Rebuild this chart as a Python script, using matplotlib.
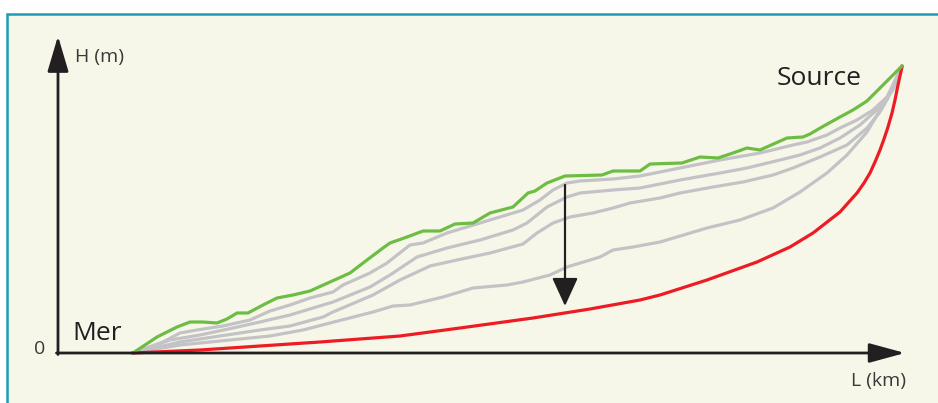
import matplotlib.pyplot as plt
from matplotlib.patches import Rectangle

# Profil en long : L (distance depuis la mer), H (altitude), unites relatives
green_L = [75, 99, 119, 132, 145, 159, 169, 179, 190, 205, 219, 235, 252, 272, 292, 309, 325, 332,
           349, 365, 382, 397, 415, 432, 455, 470, 477, 489, 507, 544, 555, 582, 592, 624, 642,
           660, 675, 689, 702, 729, 745, 752, 764, 782, 795, 809, 822, 844]
green_H = [0, 16, 26, 31, 31, 30, 34, 40, 40, 48, 55, 58, 62, 71, 80, 93, 105, 110,
           116, 122, 122, 129, 130, 140, 146, 160, 162, 170, 177, 178, 182, 182, 189, 190, 196,
           195, 200, 205, 203, 215, 216, 219, 226, 236, 243, 252, 265, 287]

grayA_L = [75, 105, 122, 139, 165, 192, 212, 232, 252, 275, 285, 312, 329, 352, 365, 389, 422, 455,
           465, 482, 495, 509, 522, 555, 582, 622, 662, 702, 735, 749, 769, 782, 799, 815, 829, 844]
grayA_H = [0, 11, 20, 23, 27, 33, 42, 48, 55, 61, 68, 80, 90, 108, 110, 120, 130, 140,
           143, 153, 163, 170, 172, 174, 177, 185, 193, 200, 208, 211, 218, 225, 233, 243, 256, 287]

grayB_L = [75, 112, 142, 175, 202, 232, 265, 275, 312, 332, 359, 389, 422, 455, 469, 489, 509, 522,
           555, 582, 622, 662, 689, 722, 742, 762, 782, 802, 822, 835, 844]
grayB_H = [0, 13, 18, 25, 31, 38, 48, 51, 66, 78, 96, 105, 113, 123, 130, 146, 156, 160,
           163, 165, 173, 180, 185, 193, 198, 205, 215, 228, 246, 263, 287]

grayC_L = [75, 122, 162, 202, 232, 265, 275, 315, 342, 372, 399, 432, 465, 479, 495, 512, 535, 555,
           572, 602, 622, 655, 685, 715, 735, 762, 789, 809, 822, 830, 844]
grayC_H = [0, 11, 17, 23, 27, 36, 41, 58, 73, 87, 93, 100, 109, 120, 130, 136, 140, 145,
           150, 155, 160, 166, 171, 178, 185, 196, 208, 225, 241, 255, 287]

grayD_L = [75, 122, 172, 212, 245, 272, 315, 335, 352, 385, 415, 449, 465, 492, 509, 542, 555, 575,
           602, 649, 682, 715, 742, 769, 789, 809, 822, 835, 844]
grayD_H = [0, 8, 13, 17, 23, 30, 41, 47, 48, 56, 65, 68, 71, 78, 86, 96, 103, 106,
           111, 125, 133, 145, 161, 180, 198, 221, 243, 266, 287]

red_L = [75, 142, 202, 262, 342, 402, 475, 532, 582, 602, 649, 699, 732, 755, 782, 790, 799, 806,
         812, 817, 822, 826, 830, 834, 837, 840, 844]
red_H = [0, 3, 7, 11, 17, 25, 35, 44, 53, 58, 73, 91, 106, 120, 141, 150, 160, 170,
         180, 191, 203, 214, 226, 240, 253, 268, 286]

arrow_L = 507
arrow_top, arrow_bottom = 168, 47

plt.rcParams['font.family'] = ['Open Sans', 'DejaVu Sans']

fig = plt.figure(figsize=(9.38, 4.03), dpi=100, facecolor='white')
ax = fig.add_axes([0, 0, 1, 1])
ax.set_xlim(-58, 880)
ax.set_ylim(-50, 353)
ax.axis('off')

# cadre
ax.add_patch(Rectangle((-51, -80), 1100, 339 + 80, facecolor='#f7f7e9',
                       edgecolor='#1a9db3', lw=1.8, zorder=0))

gray = '#c3c3c7'
for L, H in [(grayD_L, grayD_H), (grayC_L, grayC_H), (grayB_L, grayB_H), (grayA_L, grayA_H)]:
    ax.plot(L, H, color=gray, lw=2.3, solid_joinstyle='round', zorder=2)
ax.plot(red_L, red_H, color='#ed1c24', lw=2.3, zorder=3)
ax.plot(green_L, green_H, color='#6dbd45', lw=2.3, zorder=4)

# axes
ax.annotate('', xy=(0, 317), xytext=(0, -1.5),
            arrowprops=dict(arrowstyle='-|>,head_length=2.2,head_width=0.65', color='#231f20',
                            lw=2, shrinkA=0, shrinkB=0), zorder=5)
ax.annotate('', xy=(847, 0), xytext=(-1.5, 0),
            arrowprops=dict(arrowstyle='-|>,head_length=2.2,head_width=0.6', color='#231f20',
                            lw=2, shrinkA=0, shrinkB=0), zorder=5)

# fleche d'evolution
ax.annotate('', xy=(arrow_L, arrow_bottom), xytext=(arrow_L, arrow_top),
            arrowprops=dict(arrowstyle='-|>,head_length=1.75,head_width=0.8', color='#231f20',
                            lw=1.6, shrinkA=0, shrinkB=0), zorder=5)

ax.text(17, 296, 'H (m)', fontsize=14, color='#3a3a3a', ha='left', va='center')
ax.text(-18, 4, '0', fontsize=14, color='#3a3a3a', ha='center', va='center')
ax.text(848, -33, 'L (km)', fontsize=14, color='#3a3a3a', ha='right', va='baseline')
ax.text(14, 13, 'Mer', fontsize=19, color='#231f20', ha='left', va='baseline')
ax.text(719, 268, 'Source', fontsize=19, color='#231f20', ha='left', va='baseline')

plt.savefig('out.png', dpi=100)
